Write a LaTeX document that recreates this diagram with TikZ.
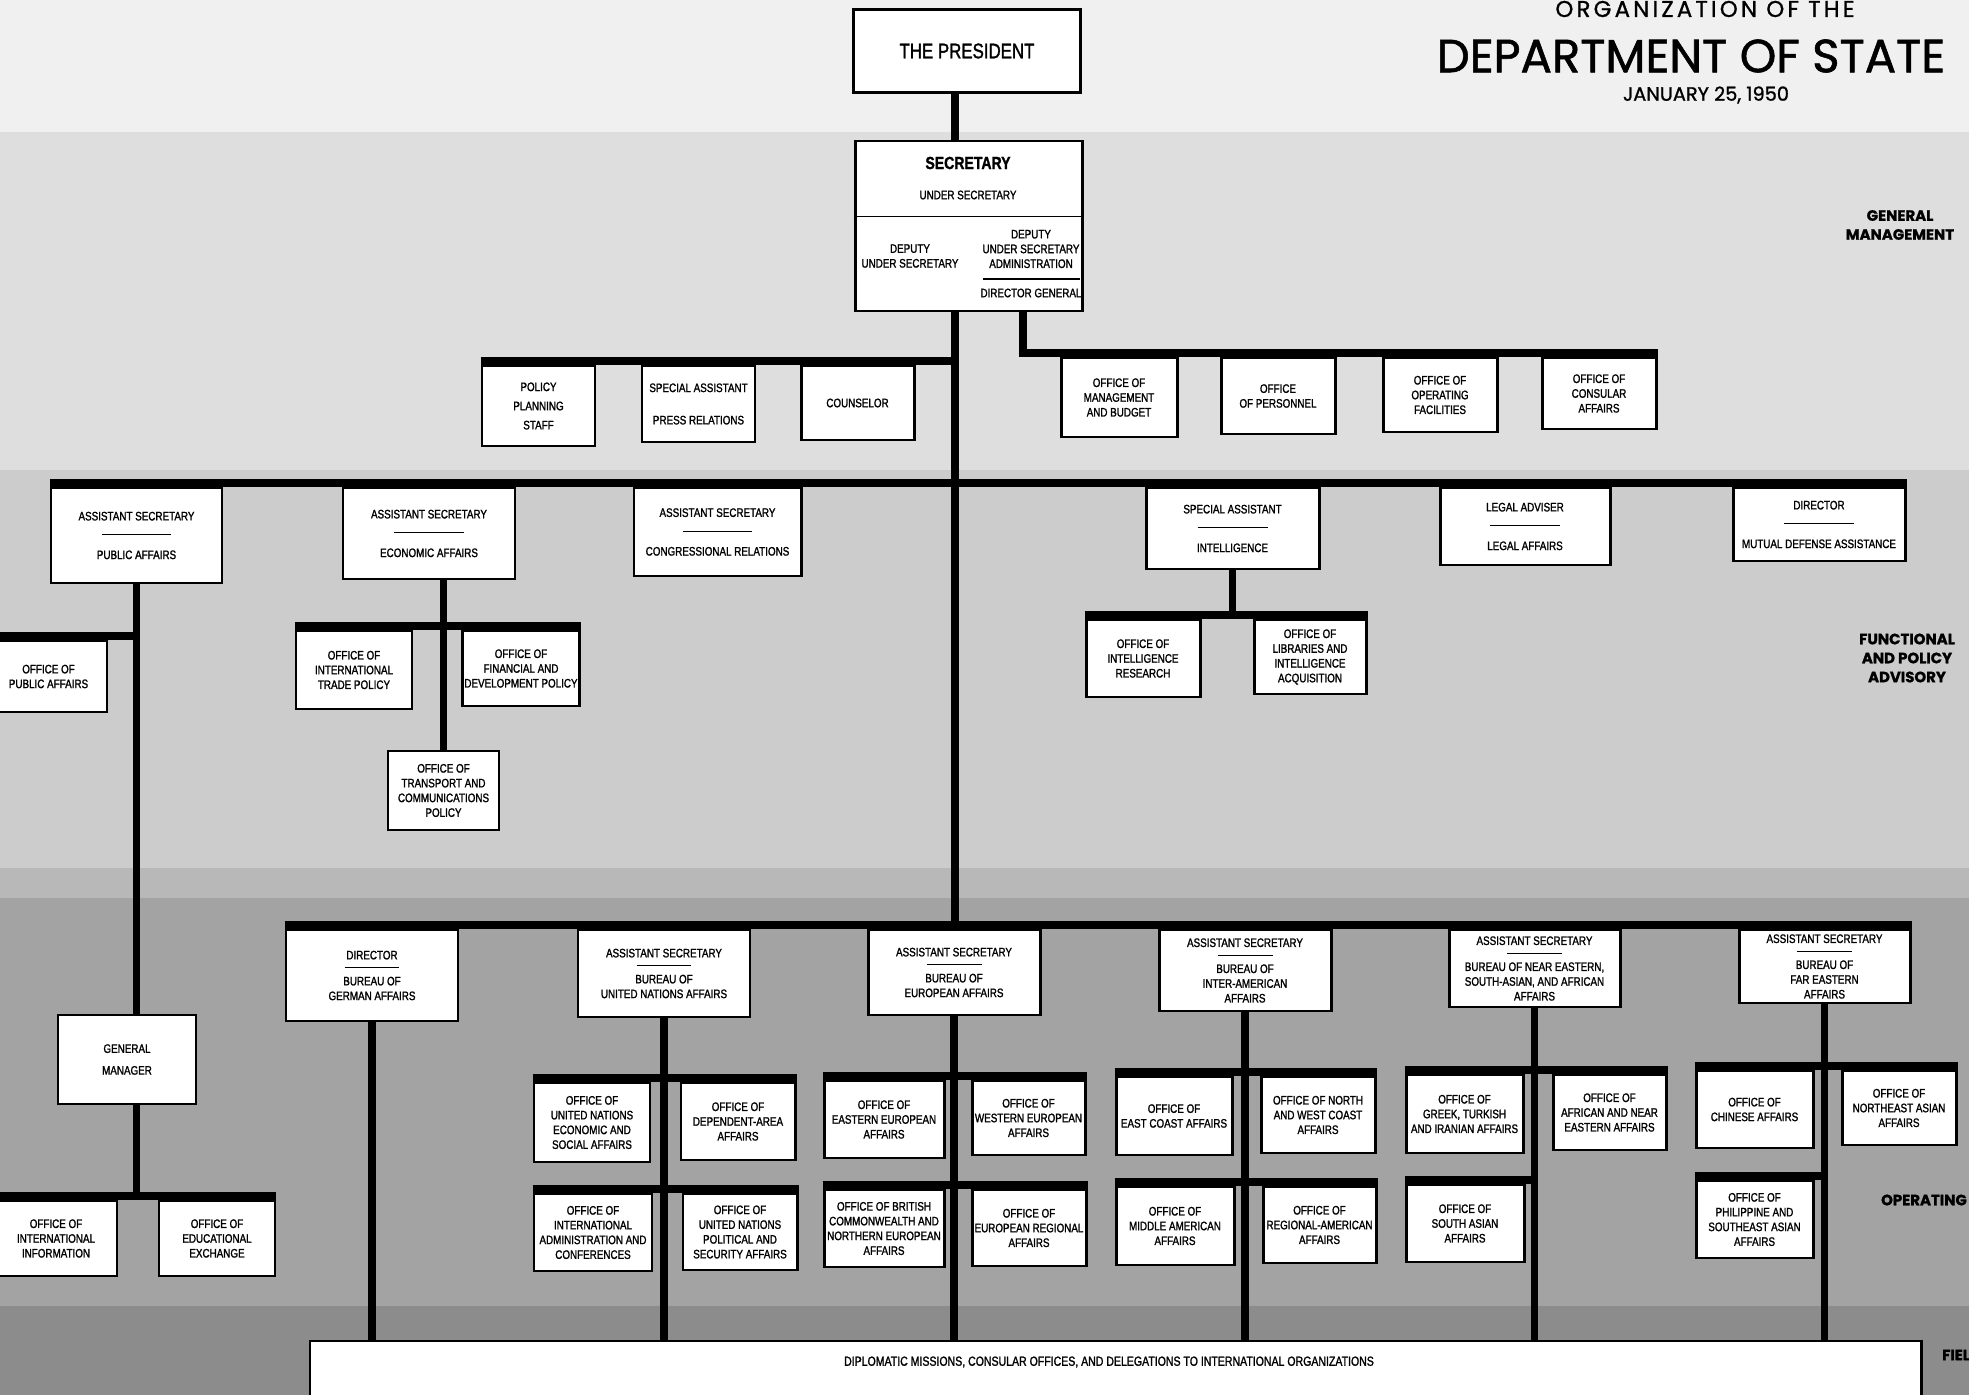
\documentclass[tikz,border=0pt]{standalone}
\usepackage{xcolor}
\usepackage{fontspec}
\usepackage{tikz}
\usetikzlibrary{calc}

\newfontfamily\cond[FakeStretch=0.8, FakeBold=1.4]{Liberation Sans}
\newfontfamily\headfont[FakeBold=1.2]{Poppins}
\newfontfamily\spacedfont[LetterSpace=14, FakeBold=1]{Poppins}
\newcommand{\splitline}[1]{\rule[2.5pt]{#1}{0.6pt}}

\definecolor{topgray}{gray}{0.94}
\definecolor{gmgray}{gray}{0.87}
\definecolor{fpgray}{gray}{0.80}
\definecolor{midgray}{gray}{0.72}
\definecolor{opgray}{gray}{0.64}
\definecolor{fieldgray}{gray}{0.55}

\begin{document}
\begin{tikzpicture}[x=0.02cm, y=-0.02cm,
	office/.style={draw, fill=white, line width=1.7pt, align=center, inner sep=1pt, font=\cond\fontsize{7}{8.4}\selectfont},
	boxtext/.style={align=center, inner sep=0pt, font=\cond\fontsize{7}{8.4}\selectfont},
	link/.style={line width=4.5pt},
	bandname/.style={align=center, font=\headfont\bfseries\fontsize{8.5}{10.8}\selectfont}]
		%page and bands
		\useasboundingbox (0,0) rectangle (1969,1395);
		\clip (0,0) rectangle (1969,1395);
		\fill[topgray] (0,0) rectangle (1969,132);
		\fill[gmgray] (0,132) rectangle (1969,470);
		\fill[fpgray] (0,470) rectangle (1969,868);
		\fill[midgray] (0,868) rectangle (1969,898);
		\fill[opgray] (0,898) rectangle (1969,1306);
		\fill[fieldgray] (0,1306) rectangle (1969,1395);
		
		%box from corners
		\def\unitbox#1#2#3#4#5#6{\node[office, minimum width={(#4-#2)*0.02cm}, minimum height={(#5-#3)*0.02cm}] (#1) at ({(#2+#4)/2},{(#3+#5)/2}) {#6};}
		
		%title
		\node[font=\spacedfont\fontsize{13}{15}\selectfont] (orgtitle) at (1705,9) {ORGANIZATION OF THE};
		\node[font=\headfont\fontsize{26.5}{30}\selectfont] (deptitle) at (1691,56) {DEPARTMENT OF STATE};
		\node[font=\headfont\fontsize{11}{13}\selectfont] (datetitle) at (1706,95) {JANUARY 25, 1950};
		
		%band names
		\node[bandname] (gmname) at (1900,225) {GENERAL\\MANAGEMENT};
		\node[bandname] (fpname) at (1907,658) {FUNCTIONAL\\AND POLICY\\ADVISORY};
		\node[bandname] (opname) at (1924,1200) {OPERATING};
		\node[bandname, anchor=west] (fdname) at (1936,1355) {FIELD};
		
		%president and secretary
		\node[office, line width=2.2pt, minimum width={227*0.02cm}, minimum height={83*0.02cm}, font=\cond\fontsize{12}{14}\selectfont] (pres) at (967,51) {THE PRESIDENT};
		\unitbox{sec}{855}{141}{1082}{311}{}
		\draw[line width=1pt] ($(sec.north west)+(0,77)$) -- ($(sec.north east)+(0,77)$);
		\node[boxtext, font=\cond\bfseries\fontsize{10}{12}\selectfont] (sectitle) at (968,163) {SECRETARY};
		\node[boxtext] (undersec) at (968,195) {UNDER SECRETARY};
		\node[boxtext] (deputy) at (910,256) {DEPUTY\\UNDER SECRETARY};
		\node[boxtext] (depadmin) at (1031,249) {DEPUTY\\UNDER SECRETARY\\ADMINISTRATION};
		\draw[line width=0.6pt] (983,279) -- (1080,279);
		\node[boxtext] (dirgen) at (1031,293) {DIRECTOR GENERAL};
		
		%general management
		\unitbox{ppstaff}{482}{366}{595}{446}{POLICY\\[2.5pt]PLANNING\\[2.5pt]STAFF}
		\unitbox{sapress}{642}{366}{755}{442}{SPECIAL ASSISTANT\\[10pt]PRESS RELATIONS}
		\unitbox{counsel}{801}{366}{914}{440}{COUNSELOR}
		\unitbox{omb}{1061}{358}{1177}{437}{OFFICE OF\\MANAGEMENT\\AND BUDGET}
		\unitbox{oper}{1221}{358}{1335}{434}{OFFICE\\OF PERSONNEL}
		\unitbox{ofacil}{1383}{358}{1497}{432}{OFFICE OF\\OPERATING\\FACILITIES}
		\unitbox{ocons}{1542}{358}{1656}{429}{OFFICE OF\\CONSULAR\\AFFAIRS}
		
		%functional and policy advisory
		\unitbox{aspa}{51}{488}{222}{583}{ASSISTANT SECRETARY\\[2.6pt]\splitline{1.4cm}\\[2.6pt]PUBLIC AFFAIRS}
		\unitbox{asea}{343}{488}{515}{579}{ASSISTANT SECRETARY\\[2.6pt]\splitline{1.4cm}\\[2.6pt]ECONOMIC AFFAIRS}
		\unitbox{ascr}{634}{488}{801}{576}{ASSISTANT SECRETARY\\[2.6pt]\splitline{1.4cm}\\[2.6pt]CONGRESSIONAL RELATIONS}
		\unitbox{saint}{1146}{488}{1319}{569}{SPECIAL ASSISTANT\\[2.6pt]\splitline{1.4cm}\\[2.6pt]INTELLIGENCE}
		\unitbox{legal}{1440}{488}{1610}{565}{LEGAL ADVISER\\[2.6pt]\splitline{1.4cm}\\[2.6pt]LEGAL AFFAIRS}
		\unitbox{mda}{1733}{488}{1905}{561}{DIRECTOR\\[2.6pt]\splitline{1.4cm}\\[2.6pt]MUTUAL DEFENSE ASSISTANCE}
		
		\unitbox{opa}{-10}{641}{107}{712}{OFFICE OF\\PUBLIC AFFAIRS}
		\unitbox{oitp}{296}{631}{412}{709}{OFFICE OF\\INTERNATIONAL\\TRADE POLICY}
		\unitbox{ofdp}{463}{631}{579}{706}{OFFICE OF\\FINANCIAL AND\\DEVELOPMENT POLICY}
		\unitbox{otcp}{388}{751}{499}{830}{OFFICE OF\\TRANSPORT AND\\COMMUNICATIONS\\POLICY}
		\unitbox{oir}{1086}{620}{1200}{697}{OFFICE OF\\INTELLIGENCE\\RESEARCH}
		\unitbox{olia}{1254}{620}{1366}{694}{OFFICE OF\\LIBRARIES AND\\INTELLIGENCE\\ACQUISITION}
		
		%public affairs operating
		\unitbox{genmgr}{58}{1015}{196}{1104}{GENERAL\\[4pt]MANAGER}
		\unitbox{oii}{-5}{1201}{117}{1276}{OFFICE OF\\INTERNATIONAL\\INFORMATION}
		\unitbox{oee}{159}{1201}{275}{1276}{OFFICE OF\\EDUCATIONAL\\EXCHANGE}
		
		%bureaus
		\unitbox{german}{286}{930}{458}{1021}{DIRECTOR\\[-1pt]\splitline{1.1cm}\\[-1pt]BUREAU OF\\GERMAN AFFAIRS}
		\unitbox{unaff}{578}{930}{750}{1017}{ASSISTANT SECRETARY\\[-1pt]\splitline{1.1cm}\\[-1pt]BUREAU OF\\UNITED NATIONS AFFAIRS}
		\unitbox{euro}{868}{930}{1040}{1015}{ASSISTANT SECRETARY\\[-1pt]\splitline{1.1cm}\\[-1pt]BUREAU OF\\EUROPEAN AFFAIRS}
		\unitbox{interam}{1159}{930}{1331}{1011}{ASSISTANT SECRETARY\\[-1pt]\splitline{1.1cm}\\[-1pt]BUREAU OF\\INTER-AMERICAN\\AFFAIRS}
		\unitbox{neaff}{1449}{930}{1620}{1007}{ASSISTANT SECRETARY\\[-1pt]\splitline{1.1cm}\\[-1pt]BUREAU OF NEAR EASTERN,\\SOUTH-ASIAN, AND AFRICAN\\AFFAIRS}
		\unitbox{feaff}{1739}{930}{1910}{1003}{ASSISTANT SECRETARY\\[-1pt]\splitline{1.1cm}\\[-1pt]BUREAU OF\\FAR EASTERN\\AFFAIRS}
		
		%offices
		\unitbox{ounesa}{534}{1083}{650}{1162}{OFFICE OF\\UNITED NATIONS\\ECONOMIC AND\\SOCIAL AFFAIRS}
		\unitbox{odaa}{681}{1083}{795}{1160}{OFFICE OF\\DEPENDENT-AREA\\AFFAIRS}
		\unitbox{oiac}{534}{1194}{652}{1271}{OFFICE OF\\INTERNATIONAL\\ADMINISTRATION AND\\CONFERENCES}
		\unitbox{ounpsa}{683}{1194}{797}{1270}{OFFICE OF\\UNITED NATIONS\\POLITICAL AND\\SECURITY AFFAIRS}
		\unitbox{oeea}{824}{1081}{944}{1158}{OFFICE OF\\EASTERN EUROPEAN\\AFFAIRS}
		\unitbox{owea}{972}{1081}{1085}{1155}{OFFICE OF\\WESTERN EUROPEAN\\AFFAIRS}
		\unitbox{obcnea}{824}{1190}{944}{1267}{OFFICE OF BRITISH\\COMMONWEALTH AND\\NORTHERN EUROPEAN\\AFFAIRS}
		\unitbox{oera}{972}{1190}{1086}{1266}{OFFICE OF\\EUROPEAN REGIONAL\\AFFAIRS}
		\unitbox{oeca}{1116}{1077}{1232}{1155}{OFFICE OF\\EAST COAST AFFAIRS}
		\unitbox{onwca}{1261}{1077}{1375}{1153}{OFFICE OF NORTH\\AND WEST COAST\\AFFAIRS}
		\unitbox{omaa}{1116}{1187}{1234}{1265}{OFFICE OF\\MIDDLE AMERICAN\\AFFAIRS}
		\unitbox{oraa}{1263}{1187}{1376}{1263}{OFFICE OF\\REGIONAL-AMERICAN\\AFFAIRS}
		\unitbox{ogtia}{1406}{1075}{1523}{1153}{OFFICE OF\\GREEK, TURKISH\\AND IRANIAN AFFAIRS}
		\unitbox{oanea}{1553}{1075}{1666}{1150}{OFFICE OF\\AFRICAN AND NEAR\\EASTERN AFFAIRS}
		\unitbox{osaa}{1406}{1185}{1524}{1262}{OFFICE OF\\SOUTH ASIAN\\AFFAIRS}
		\unitbox{oca}{1696}{1071}{1813}{1148}{OFFICE OF\\CHINESE AFFAIRS}
		\unitbox{onaa}{1842}{1071}{1956}{1145}{OFFICE OF\\NORTHEAST ASIAN\\AFFAIRS}
		\unitbox{opsaa}{1696}{1181}{1813}{1258}{OFFICE OF\\PHILIPPINE AND\\SOUTHEAST ASIAN\\AFFAIRS}
		
		%field
		\unitbox{field}{310}{1341}{1921}{1430}{}
		\node[boxtext, font=\cond\fontsize{7.5}{9}\selectfont] (fieldtxt) at (1109,1362) {DIPLOMATIC MISSIONS, CONSULAR OFFICES, AND DELEGATIONS TO INTERNATIONAL ORGANIZATIONS};
		
		%connectors
		\coordinate (trunk) at (955,0);
		\coordinate (admin) at (1023,0);
		\draw[link] (pres.south -| trunk) -- (sec.north -| trunk);
		\draw[link] (sec.south -| trunk) -- (euro.north -| trunk);
		\draw[link] (sec.south -| admin) |- ([yshift=2.2pt]ocons.north east);
		\draw[link] ([yshift=2.2pt]ppstaff.north west) -- ([yshift=2.2pt]ppstaff.north west -| trunk);
		\draw[link] ([yshift=2.2pt]aspa.north west) -- ([yshift=2.2pt]mda.north east);
		\draw[link] ([yshift=2.2pt]german.north west) -- ([yshift=2.2pt]feaff.north east);
		
		\draw[link] (aspa.south) -- (aspa.south |- genmgr.north);
		\draw[link] ([yshift=2.2pt]opa.north west) -- ([yshift=2.2pt]opa.north west -| aspa.south);
		\draw[link] (genmgr.south -| aspa.south) -- (oii.north -| aspa.south);
		\draw[link] ([yshift=2.2pt]oii.north west) -- ([yshift=2.2pt]oee.north east);
		
		\draw[link] (asea.south -| otcp.north) -- (otcp.north);
		\draw[link] ([yshift=2.2pt]oitp.north west) -- ([yshift=2.2pt]ofdp.north east);
		\draw[link] (saint.south) -- (saint.south |- oir.north);
		\draw[link] ([yshift=2.2pt]oir.north west) -- ([yshift=2.2pt]olia.north east);
		
		\draw[link] (german.south) -- (german.south |- field.north);
		\draw[link] (unaff.south) -- (unaff.south |- field.north);
		\draw[link] (euro.south) -- (euro.south |- field.north);
		\draw[link] (interam.south) -- (interam.south |- field.north);
		\draw[link] (neaff.south) -- (neaff.south |- field.north);
		\draw[link] (feaff.south) -- (feaff.south |- field.north);
		
		\draw[link] ([yshift=2.2pt]ounesa.north west) -- ([yshift=2.2pt]odaa.north east);
		\draw[link] ([yshift=2.2pt]oiac.north west) -- ([yshift=2.2pt]ounpsa.north east);
		\draw[link] ([yshift=2.2pt]oeea.north west) -- ([yshift=2.2pt]owea.north east);
		\draw[link] ([yshift=2.2pt]obcnea.north west) -- ([yshift=2.2pt]oera.north east);
		\draw[link] ([yshift=2.2pt]oeca.north west) -- ([yshift=2.2pt]onwca.north east);
		\draw[link] ([yshift=2.2pt]omaa.north west) -- ([yshift=2.2pt]oraa.north east);
		\draw[link] ([yshift=2.2pt]ogtia.north west) -- ([yshift=2.2pt]oanea.north east);
		\draw[link] ([yshift=2.2pt]osaa.north west) -- ([yshift=2.2pt]osaa.north west -| neaff.south);
		\draw[link] ([yshift=2.2pt]oca.north west) -- ([yshift=2.2pt]onaa.north east);
		\draw[link] ([yshift=2.2pt]opsaa.north west) -- ([yshift=2.2pt]opsaa.north west -| feaff.south);
	\end{tikzpicture}
\end{document}
